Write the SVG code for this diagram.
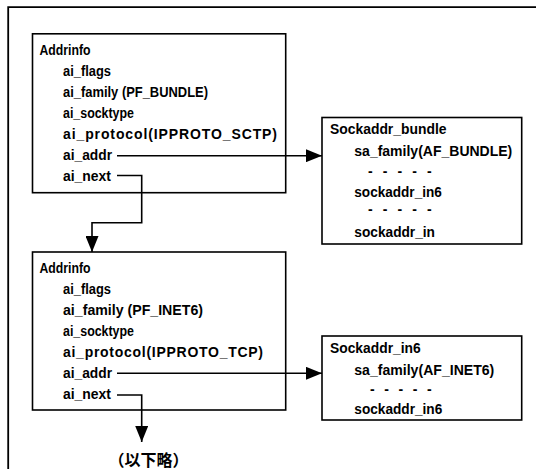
<svg xmlns="http://www.w3.org/2000/svg" width="536" height="469" viewBox="0 0 536 469">
<style>
  text { font-family: "Liberation Sans", "Noto Sans CJK JP", sans-serif; font-size: 14px; font-weight: bold; fill: #000; }
  .box { fill: #fff; stroke: #000; stroke-width: 1.6; }
  .conn { fill: none; stroke: #000; stroke-width: 1.6; }
  .frame { fill: none; stroke: #000; stroke-width: 1.8; }
</style>
<defs>
  <marker id="ah" viewBox="0 0 16 13" refX="16" refY="6.5" markerWidth="16" markerHeight="13" markerUnits="userSpaceOnUse" orient="auto">
    <path d="M0,0 L16,6.5 L0,13 z" fill="#000"/>
  </marker>
</defs>
<rect width="536" height="469" fill="#fff"/>
<path class="frame" d="M8.2,469 V7.2 H536"/>

<g id="addrinfo1">
  <rect class="box" x="32.5" y="33.8" width="253.2" height="158.9"/>
  <text x="39.5" y="55" textLength="51" lengthAdjust="spacingAndGlyphs">Addrinfo</text>
  <text x="63" y="76" textLength="48" lengthAdjust="spacingAndGlyphs">ai_flags</text>
  <text x="63" y="97" textLength="145" lengthAdjust="spacingAndGlyphs">ai_family (PF_BUNDLE)</text>
  <text x="63" y="118" textLength="71" lengthAdjust="spacingAndGlyphs">ai_socktype</text>
  <text x="63" y="139" textLength="214" lengthAdjust="spacing">ai_protocol(IPPROTO_SCTP)</text>
  <text x="63" y="160" textLength="49" lengthAdjust="spacingAndGlyphs">ai_addr</text>
  <text x="63" y="181" textLength="48" lengthAdjust="spacingAndGlyphs">ai_next</text>
</g>

<g id="sockaddr_bundle">
  <rect class="box" x="322" y="117.5" width="199.7" height="126.5"/>
  <text x="330" y="134.3" textLength="116.5" lengthAdjust="spacingAndGlyphs">Sockaddr_bundle</text>
  <text x="354.3" y="156" textLength="158" lengthAdjust="spacingAndGlyphs">sa_family(AF_BUNDLE)</text>
  <text x="368" y="176" textLength="63.7" lengthAdjust="spacing">- - - - -</text>
  <text x="354.3" y="197.3" textLength="87.5" lengthAdjust="spacingAndGlyphs">sockaddr_in6</text>
  <text x="368" y="213.5" textLength="63.7" lengthAdjust="spacing">- - - - -</text>
  <text x="354.3" y="236.7" textLength="80.7" lengthAdjust="spacingAndGlyphs">sockaddr_in</text>
</g>

<g id="addrinfo2">
  <rect class="box" x="32.5" y="252" width="253.2" height="158"/>
  <text x="39.5" y="273" textLength="51" lengthAdjust="spacingAndGlyphs">Addrinfo</text>
  <text x="63" y="294" textLength="48" lengthAdjust="spacingAndGlyphs">ai_flags</text>
  <text x="63" y="315" textLength="140" lengthAdjust="spacingAndGlyphs">ai_family (PF_INET6)</text>
  <text x="63" y="336" textLength="71" lengthAdjust="spacingAndGlyphs">ai_socktype</text>
  <text x="63" y="357" textLength="200" lengthAdjust="spacing">ai_protocol(IPPROTO_TCP)</text>
  <text x="63" y="378" textLength="49" lengthAdjust="spacingAndGlyphs">ai_addr</text>
  <text x="63" y="399" textLength="48" lengthAdjust="spacingAndGlyphs">ai_next</text>
</g>

<g id="sockaddr_in6">
  <rect class="box" x="322" y="336" width="199.7" height="84"/>
  <text x="330" y="353.3" textLength="90.7" lengthAdjust="spacingAndGlyphs">Sockaddr_in6</text>
  <text x="354.3" y="375" textLength="140" lengthAdjust="spacingAndGlyphs">sa_family(AF_INET6)</text>
  <text x="370" y="394.3" textLength="61.7" lengthAdjust="spacing">- - - - -</text>
  <text x="354.3" y="414.3" textLength="88" lengthAdjust="spacingAndGlyphs">sockaddr_in6</text>
</g>

<g id="more">
  <text x="148.5" y="465.5" text-anchor="middle" style="font-size:16px">（以下略）</text>
</g>

<g id="connectors">
  <path class="conn" d="M117,155.7 H322" marker-end="url(#ah)"/>
  <path class="conn" d="M117,175.5 H141.7 V222.7 H92 V252" marker-end="url(#ah)"/>
  <path class="conn" d="M117,373.3 H322" marker-end="url(#ah)"/>
  <path class="conn" d="M117,395 H141.7 V442" marker-end="url(#ah)"/>
</g>
</svg>
